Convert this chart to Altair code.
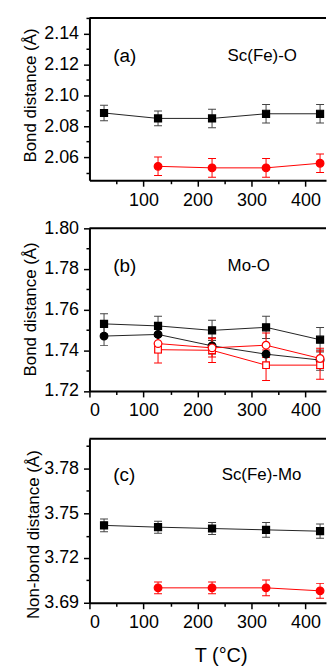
import altair as alt
import pandas as pd

FONT = "Liberation Sans"

# ---------------- data ----------------
T5 = [27, 127, 227, 327, 427]
T4 = [127, 227, 327, 427]

# (a) Sc(Fe)-O
a_black = [2.0885, 2.0850, 2.0850, 2.0880, 2.0880]
a_black_err = [0.0050, 0.0048, 0.0060, 0.0060, 0.0060]
a_red = [2.0540, 2.0530, 2.0530, 2.0560]
a_red_err = [0.0060, 0.0060, 0.0060, 0.0060]

# (b) Mo-O
b_sq = [1.7530, 1.7520, 1.7498, 1.7513, 1.7452]
b_sq_err = [0.0050, 0.0048, 0.0050, 0.0055, 0.0060]
b_ci = [1.7470, 1.7478, 1.7422, 1.7381, 1.7352]
b_ci_err = [0.0047, 0.0045, 0.0040, 0.0050, 0.0050]
b_osq = [1.7403, 1.7400, 1.7327, 1.7327]
b_osq_err = [0.0065, 0.0060, 0.0075, 0.0070]
b_oci = [1.7433, 1.7412, 1.7425, 1.7360]
b_oci_err = [0.0045, 0.0045, 0.0060, 0.0050]

# (c) Sc(Fe)-Mo
c_black = [3.7419, 3.7407, 3.7398, 3.7389, 3.7380]
c_black_err = [0.0043, 0.0040, 0.0040, 0.0050, 0.0048]
c_red = [3.7000, 3.7000, 3.7000, 3.6980]
c_red_err = [0.0039, 0.0040, 0.0053, 0.0050]

# axis ticks
x_major_a = [100, 200, 300, 400]
x_major = [0, 100, 200, 300, 400]
x_minor = [50, 150, 250, 350]
ya_major = [2.06, 2.08, 2.10, 2.12, 2.14]
ya_minor = [2.05, 2.07, 2.09, 2.11, 2.13, 2.15]
yb_major = [1.72, 1.74, 1.76, 1.78, 1.80]
yb_minor = [1.73, 1.75, 1.77, 1.79]
yc_major = [3.69, 3.72, 3.75, 3.78]
yc_minor = [3.705, 3.735, 3.765, 3.795]

W = 238
XDOM = [0, 438]


def frame(xs, vs, es):
    return pd.DataFrame({"T": xs, "v": vs, "e": es})


def series_layers(df, xsc, ysc, shape, fill, stroke, line_color, err_color, size):
    base = alt.Chart(df).transform_calculate(
        lo="datum.v - datum.e", hi="datum.v + datum.e"
    )
    x = alt.X("T:Q", scale=xsc, axis=None)
    line = base.mark_line(color=line_color, strokeWidth=1, clip=True).encode(
        x=x, y=alt.Y("v:Q", scale=ysc, axis=None)
    )
    rule = base.mark_rule(color=err_color, strokeWidth=1, clip=True).encode(
        x=x, y=alt.Y("lo:Q", scale=ysc, axis=None), y2="hi:Q"
    )
    cap_lo = base.mark_tick(
        color=err_color, orient="horizontal", size=8, thickness=1, clip=True, opacity=1
    ).encode(x=x, y=alt.Y("lo:Q", scale=ysc, axis=None))
    cap_hi = base.mark_tick(
        color=err_color, orient="horizontal", size=8, thickness=1, clip=True, opacity=1
    ).encode(x=x, y=alt.Y("hi:Q", scale=ysc, axis=None))
    pts = base.mark_point(
        shape=shape, filled=True, fill=fill, stroke=stroke, strokeWidth=1.2,
        size=size, opacity=1, clip=True
    ).encode(x=x, y=alt.Y("v:Q", scale=ysc, axis=None))
    return [line, rule, cap_lo, cap_hi], [pts]


def panel(series, ydom, ymaj, ymin, xmaj, ytitle, ttl_pad, ttl_y, height,
          letter, label, label_x, text_y, xtitle=None):
    xsc = alt.Scale(domain=XDOM, nice=False, zero=False)
    ysc = alt.Scale(domain=ydom, nice=False, zero=False)
    df0 = series[0][0]

    yaxis_kw = dict(orient="left", values=ymaj, format=".2f", title=ytitle,
                    titlePadding=ttl_pad, titleY=ttl_y)
    xaxis_kw = dict(orient="bottom", values=xmaj, format="d")
    if xtitle:
        xaxis_kw.update(title=xtitle, titleX=132, titleY=59.5, titleAlign="center",
                        titleBaseline="alphabetic", titleFontSize=20, titleAngle=0)
    else:
        xaxis_kw.update(title=None)

    major = alt.Chart(df0).mark_point(opacity=0).encode(
        x=alt.X("T:Q", scale=xsc, axis=alt.Axis(**xaxis_kw)),
        y=alt.Y("v:Q", scale=ysc, axis=alt.Axis(**yaxis_kw)),
    )
    minor = alt.Chart(df0).mark_point(opacity=0).encode(
        x=alt.X("T:Q", scale=xsc, axis=alt.Axis(orient="bottom", values=x_minor,
                                                 labels=False, domain=False,
                                                 tickSize=3.5, title=None)),
        y=alt.Y("v:Q", scale=ysc, axis=alt.Axis(orient="left", values=ymin,
                                                 labels=False, domain=False,
                                                 tickSize=3.5, title=None)),
    )

    under, over = [], []
    for s in series:
        u, o = series_layers(s[0], xsc, ysc, *s[1:])
        under += u
        over += o

    one = pd.DataFrame({"d": [0]})
    top = alt.Chart(one).mark_rule(color="black", strokeWidth=2).encode(
        x=alt.value(0), x2=alt.value(W), y=alt.value(0)
    )
    t1 = alt.Chart(one).mark_text(align="left", baseline="middle", font=FONT,
                                  fontSize=19, color="black").encode(
        x=alt.value(24), y=alt.value(text_y), text=alt.value(letter))
    t2 = alt.Chart(one).mark_text(align="left", baseline="middle", font=FONT,
                                  fontSize=17, color="black").encode(
        x=alt.value(label_x), y=alt.value(text_y), text=alt.value(label))

    return alt.layer(major, minor, *under, *over, top, t1, t2).resolve_axis(
        x="independent", y="independent"
    ).properties(width=W, height=height)


BLACK_LINE = "#222222"
BLACK_ERR = "#444444"
RED = "#ff0000"

pa = panel(
    [
        (frame(T5, a_black, a_black_err), "square", "black", "black", BLACK_LINE, BLACK_ERR, 50),
        (frame(T4, a_red, a_red_err), "circle", RED, RED, RED, RED, 60),
    ],
    [2.045, 2.150], ya_major, ya_minor, x_major_a,
    "Bond distance (Å)", 4, 77.5, 163.3, "(a)", "Sc(Fe)-O", 139, 38,
)

pb = panel(
    [
        (frame(T5, b_sq, b_sq_err), "square", "black", "black", BLACK_LINE, BLACK_ERR, 50),
        (frame(T5, b_ci, b_ci_err), "circle", "black", "black", BLACK_LINE, BLACK_ERR, 60),
        (frame(T4, b_osq, b_osq_err), "square", "white", RED, RED, RED, 45),
        (frame(T4, b_oci, b_oci_err), "circle", "white", RED, RED, RED, 60),
    ],
    [1.72, 1.80], yb_major, yb_minor, x_major,
    "Bond distance (Å)", 4, 81, 163.6, "(b)", "Mo-O", 139, 38,
)

pc = panel(
    [
        (frame(T5, c_black, c_black_err), "square", "black", "black", BLACK_LINE, BLACK_ERR, 50),
        (frame(T4, c_red, c_red_err), "circle", RED, RED, RED, RED, 60),
    ],
    [3.69, 3.80], yc_major, yc_minor, x_major,
    "Non-bond distance (Å)", 1, 96, 165, "(c)", "Sc(Fe)-Mo", 133, 36,
    xtitle="T (°C)",
)

chart = alt.vconcat(pa, pb, pc, spacing=47.7, bounds="flush").properties(
    padding={"left": 21, "top": 15, "right": 0, "bottom": 0}
).configure_axis(
    labelFont=FONT, titleFont=FONT, labelFontSize=18, titleFontSize=17,
    titleFontWeight="normal", labelColor="black", titleColor="black",
    domainColor="black", domainWidth=2, tickColor="black", tickWidth=1.5,
    tickSize=6, labelPadding=5, grid=False,
).configure_view(strokeWidth=0)

chart.save("out.html", embed_options={"renderer": "svg", "actions": False})
